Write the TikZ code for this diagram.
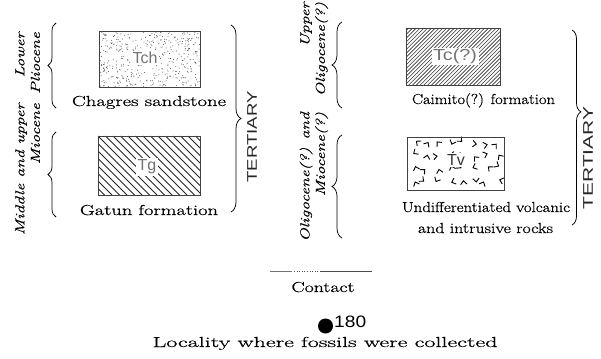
\documentclass[tikz,border=0pt]{standalone}
\usepackage{fontspec}
\usepackage{graphicx}
\newfontfamily\lsans{Liberation Sans}
\newfontfamily\rmthick{Latin Modern Roman}[FakeBold=0.6]
\newfontfamily\itthick{Latin Modern Roman}[FakeBold=0.35]
\usetikzlibrary{decorations.pathreplacing}
\newcommand\fitw[2]{\resizebox{#1}{\height}{#2}}
\begin{document}
\begin{tikzpicture}[x=1pt,y=-1pt,
  lbl/.style={font=\rmthick\fontsize{14.5}{17}\selectfont, inner sep=0pt, anchor=base},
  age/.style={font=\itthick\fontsize{13}{15.5}\selectfont\itshape, rotate=90, anchor=east, inner sep=0pt},
  tert/.style={font=\lsans\fontsize{14}{16}\selectfont, rotate=90, inner sep=0pt, text=black!85},
  code/.style={font=\lsans\fontsize{16}{18}\selectfont, text=black!55, fill=white, inner sep=1.5pt},
  unit/.style={draw=black!75, line width=0.8pt, inner sep=0pt},
  brc/.style={decorate, decoration={brace, amplitude=#1}, line width=0.75pt},
  hatch/.style={line width=0.85pt, black!85},
  chev/.style={line width=0.9pt, black},
  contactline/.style={line width=0.6pt, black!70},
]
\useasboundingbox (0,0) rectangle (601,358);
\pgfmathsetseed{12}
% ---- Tch stipple
\begin{scope}
\clip (99,31) rectangle (200,87);
\foreach \i in {1,...,450}{\fill[black!70] ({99.5+100*rnd},{31.5+55*rnd}) circle[radius=0.5];}
\end{scope}
\node[unit, minimum width=101pt, minimum height=56pt] (tch) at (149.5,59) {};
\node[code] (tchl) at (145,58) {Tch};
% ---- Tg hatch
\begin{scope}
\clip (98,136) rectangle (200,195);
\foreach \k in {-60,-52.5,...,105} \draw[hatch] (98+\k,136) -- ++(59,59);
\end{scope}
\node[unit, minimum width=102pt, minimum height=59pt] (tg) at (149,165.5) {};
\node[code] (tgl) at (147,167) {Tg};
% ---- Tc hatch
\begin{scope}
\clip (406,28) rectangle (500,85);
\foreach \k in {-58,-54.2,...,96} \draw[line width=0.6pt, black!80] (406+\k,85) -- ++(57,-57);
\end{scope}
\node[unit, minimum width=94pt, minimum height=57pt] (tc) at (453,56.5) {};
\node[code] (tcl) at (455,56.5) {\fitw{44pt}{Tc(?)}};
% ---- Tv chevrons
\begin{scope}
\clip (407,137) rectangle (504,190);
\foreach \r in {0,...,3}{\foreach \c in {0,...,7}{
  \pgfmathsetmacro\px{414+12*\c+2.5*rand}
  \pgfmathsetmacro\py{143+12.5*\r+2*rand}
  \pgfmathsetmacro\ang{360*rnd}
  \begin{scope}[shift={(\px,\py)}, rotate=\ang]
    \draw[chev] (-3.2,3.6) -- (0,0) -- (3.2,3.6);
  \end{scope}
}}
\end{scope}
\node[unit, minimum width=97pt, minimum height=53pt] (tv) at (455.5,163.5) {};
\node[code, text=black!80, inner sep=1pt] (tvl) at (456,160) {Tv};
% ---- labels
\node[lbl] (l1) at (149,106) {\fitw{154pt}{Chagres sandstone}};
\node[lbl] (l2) at (149,215) {\fitw{138pt}{Gatun formation}};
\node[lbl] (l3) at (483.5,104) {\fitw{143pt}{Caimito(?) formation}};
\node[lbl] (l4) at (486,212) {\fitw{168pt}{Undifferentiated volcanic}};
\node[lbl] (l5) at (485.5,233) {\fitw{135pt}{and intrusive rocks}};
% ---- age labels
\node[age] (a1) at (29,32) {\scalebox{1.35}[1]{\begin{tabular}{@{}r@{}}Lower\\Pliocene\end{tabular}}};
\node[age] (a2) at (29,103) {\scalebox{1.35}[1]{\begin{tabular}{@{}r@{}}Middle and upper\\Miocene\end{tabular}}};
\node[age] (a3) at (314,2) {\scalebox{1.35}[1]{\begin{tabular}{@{}r@{}}Upper\\Oligocene(?)\end{tabular}}};
\node[age] (a4) at (314,112) {\scalebox{1.35}[1]{\begin{tabular}{@{}r@{}}Oligocene(?) and\\Miocene(?)\end{tabular}}};
% ---- braces
\coordinate (b1s) at (56,108); \coordinate (b1e) at (56,23);
\coordinate (b2s) at (56,217); \coordinate (b2e) at (56,132);
\coordinate (b3s) at (231,25); \coordinate (b3e) at (231,212);
\coordinate (b4s) at (342,108); \coordinate (b4e) at (342,22);
\coordinate (b5s) at (342,238); \coordinate (b5e) at (342,135);
\coordinate (b6s) at (572,30); \coordinate (b6e) at (572,225);
\draw[brc=8pt] (b1s) -- (b1e);
\draw[brc=8pt] (b2s) -- (b2e);
\draw[brc=10pt] (b3s) -- (b3e);
\draw[brc=10pt] (b4s) -- (b4e);
\draw[brc=10pt] (b5s) -- (b5e);
\draw[decorate, decoration={brace, amplitude=9pt, aspect=0.42}, line width=0.75pt] (b6s) -- (b6e);
% ---- TERTIARY
\node[tert] (t1) at (252,137) {\fitw{91pt}{TERTIARY}};
\node[tert] (t2) at (588,158) {\fitw{103pt}{TERTIARY}};
% ---- contact
\coordinate (c1) at (270,271); \coordinate (c2) at (292,271);
\coordinate (c3) at (294,271); \coordinate (c4) at (318,271);
\coordinate (c5) at (320,271); \coordinate (c6) at (372,271);
\draw[contactline, black!55] (c1) -- (c2);
\draw[contactline, dotted] (c3) -- (c4);
\draw[contactline] (c5) -- (c6);
\node[lbl] (l6) at (323,292) {\fitw{63pt}{Contact}};
% ---- locality
\node[circle, fill=black, minimum size=15pt, inner sep=0pt] (dot) at (325.5,326) {};
\node[font=\lsans\fontsize{16.5}{18}\selectfont, anchor=base west, inner sep=0pt] (num) at (334,327) {\fitw{32pt}{180}};
\node[lbl] (l7) at (325,347) {\fitw{345pt}{Locality where fossils were collected}};
\end{tikzpicture}
\end{document}
